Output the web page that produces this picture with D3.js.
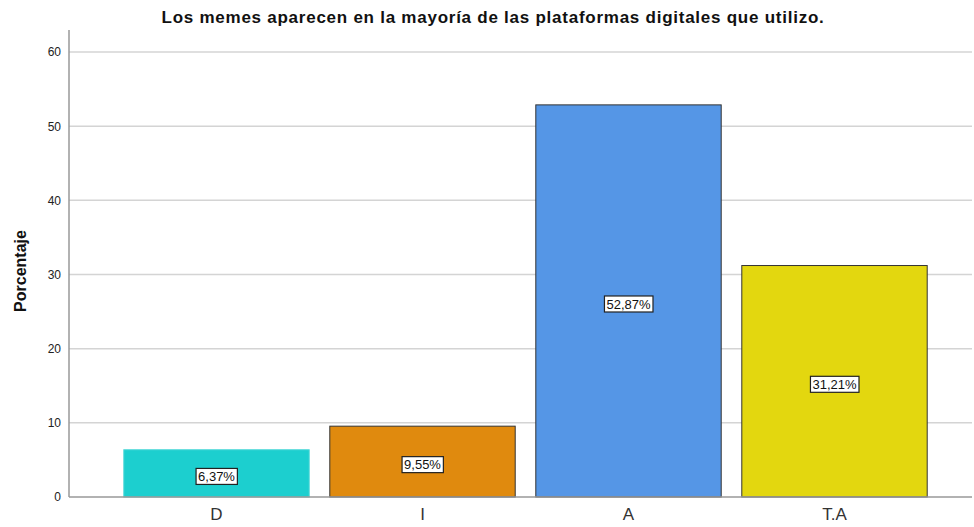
<!DOCTYPE html>
<html>
<head>
<meta charset="utf-8">
<script src="https://cdn.jsdelivr.net/npm/d3@7"></script>
<style>
  body { margin: 0; background: #fff; }
  svg { display: block; font-family: "Liberation Sans", Arial, sans-serif; }
</style>
</head>
<body>
<div id="chart"></div>
<script>
// chart data
const categories = ['D', 'I', 'A', 'T.A']
const percentages = [6.37, 9.55, 52.87, 31.21]
const valueLabels = ['6,37%', '9,55%', '52,87%', '31,21%']
const barColors = ['#1ccfcf', '#e08a0e', '#5596e6', '#e3d70f']
const barStrokes = ['#4fd8d8', '#333333', '#333333', '#333333']
const yTicks = [0, 10, 20, 30, 40, 50, 60]

const width = 974
const height = 527
const margin = { top: 30, right: 2, bottom: 30, left: 69 }

const svg = d3.select('#chart')
  .append('svg')
  .attr('width', width)
  .attr('height', height)

const x = d3.scaleBand()
  .domain(categories)
  .range([113.5, 937.5])
  .paddingInner(0.1)
  .paddingOuter(0.05)

const y = d3.scaleLinear()
  .domain([0, 60])
  .range([497, 52])

// gridlines
svg.append('g')
  .selectAll('line')
  .data(yTicks.filter(d => d > 0))
  .join('line')
  .attr('x1', margin.left)
  .attr('x2', width - margin.right)
  .attr('y1', d => y(d))
  .attr('y2', d => y(d))
  .attr('stroke', '#d4d4d4')
  .attr('stroke-width', 1.5)

// bars
svg.append('g')
  .selectAll('rect')
  .data(percentages)
  .join('rect')
  .attr('x', (_, i) => x(categories[i]))
  .attr('y', d => y(d))
  .attr('width', x.bandwidth())
  .attr('height', d => y(0) - y(d))
  .attr('fill', (_, i) => barColors[i])
  .attr('stroke', (_, i) => barStrokes[i])
  .attr('stroke-width', 1)

// value labels in boxes
const labels = svg.append('g')
  .selectAll('g')
  .data(percentages)
  .join('g')
  .attr('transform', (d, i) => `translate(${x(categories[i]) + x.bandwidth() / 2}, ${y(d / 2) + 3})`)

labels.append('text')
  .attr('text-anchor', 'middle')
  .attr('dy', '0.35em')
  .attr('font-size', 13)
  .attr('fill', '#111')
  .text((_, i) => valueLabels[i])
  .each(function () {
    const bb = this.getBBox()
    d3.select(this.parentNode).insert('rect', 'text')
      .attr('x', bb.x - 2)
      .attr('y', bb.y - 0.5)
      .attr('width', bb.width + 4)
      .attr('height', bb.height + 1)
      .attr('fill', '#fff')
      .attr('stroke', '#222')
      .attr('stroke-width', 1.2)
  })

// y axis
const yAxis = svg.append('g')
  .attr('transform', `translate(${margin.left},0)`)
  .call(d3.axisLeft(y).tickValues(yTicks).tickSize(0).tickPadding(8))
yAxis.select('.domain').remove()
yAxis.selectAll('text')
  .attr('font-size', 12)
  .attr('fill', '#222')
  .attr('font-family', '"Liberation Sans", Arial, sans-serif')

svg.append('line')
  .attr('x1', margin.left)
  .attr('x2', margin.left)
  .attr('y1', margin.top)
  .attr('y2', y(0))
  .attr('stroke', '#999')
  .attr('stroke-width', 1.5)

// x axis
const xAxis = svg.append('g')
  .attr('transform', `translate(0,${y(0)})`)
  .call(d3.axisBottom(x).tickSize(0).tickPadding(11))
xAxis.select('.domain').remove()
xAxis.selectAll('text')
  .attr('font-size', 17)
  .attr('fill', '#333')
  .attr('font-family', '"Liberation Sans", Arial, sans-serif')

svg.append('line')
  .attr('x1', margin.left)
  .attr('x2', width - margin.right)
  .attr('y1', y(0))
  .attr('y2', y(0))
  .attr('stroke', '#999')
  .attr('stroke-width', 1.5)

// title
svg.append('text')
  .attr('x', 493)
  .attr('y', 23)
  .attr('text-anchor', 'middle')
  .attr('font-size', 17)
  .attr('font-weight', 'bold')
  .attr('letter-spacing', 0.75)
  .attr('fill', '#111')
  .text('Los memes aparecen en la mayoría de las plataformas digitales que utilizo.')

// y axis title
svg.append('text')
  .attr('transform', 'translate(26,271) rotate(-90)')
  .attr('text-anchor', 'middle')
  .attr('font-size', 16)
  .attr('font-weight', 'bold')
  .attr('fill', '#111')
  .text('Porcentaje')
</script>
</body>
</html>
